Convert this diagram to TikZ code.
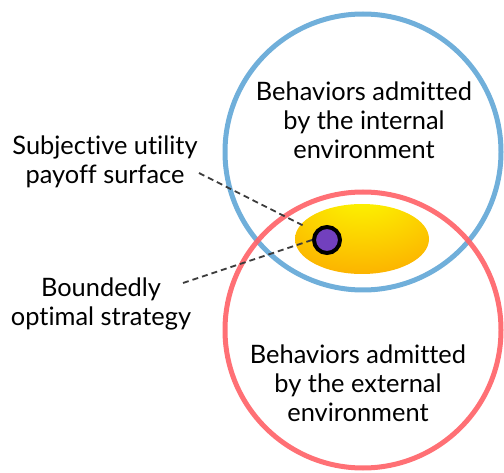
\documentclass[tikz,border=0pt]{standalone}
\usepackage{fontspec}
\setmainfont{Lato}[Ligatures=NoCommon]
\usetikzlibrary{shapes.geometric}
\definecolor{bluec}{RGB}{100,168,215}
\definecolor{redc}{RGB}{255,100,105}
\definecolor{purp}{RGB}{114,64,190}
\definecolor{dashc}{RGB}{60,60,60}
\definecolor{yel}{RGB}{252,242,0}
\definecolor{org}{RGB}{252,150,0}
\pgfdeclareradialshading{payoff}{\pgfpoint{0bp}{38bp}}{color(0bp)=(yel); color(6bp)=(yel); color(50bp)=(org)}
\tikzset{
  ring/.style={circle, draw=#1, draw opacity=0.92, line width=5pt, minimum size=276pt, inner sep=0pt},
  label/.style={align=center, font=\fontsize{25.4}{29}\selectfont, inner sep=0pt},
  dashline/.style={draw=dashc, line width=1.8pt, dash pattern=on 6pt off 4pt},
}
\begin{document}
\begin{tikzpicture}[x=1pt,y=-1pt]
\useasboundingbox (0,0) rectangle (504,473);
\node[ring=bluec] (blue) at (363,152) {};
\node[ring=redc] (red) at (363,330) {};
\node[ellipse, shade, shading=payoff, minimum width=134pt, minimum height=70pt, inner sep=0pt] (payoff) at (362,239) {};
\node[circle, fill=purp, draw=black, line width=4pt, minimum size=26pt, inner sep=0pt] (opt) at (327,240) {};
\node[label] (internal) at (364,120) {Behaviors admitted\\by the internal\\environment};
\node[label] (external) at (358,383) {Behaviors admitted\\by the external\\environment};
\node[label] (subj) at (105,162) {Subjective utility\\payoff surface};
\node[label] (bound) at (101,304) {Boundedly\\optimal strategy};
\coordinate (s1) at (199,173);
\coordinate (s2) at (304,226);
\coordinate (b1) at (183,283);
\draw[dashline] (s1) -- (s2);
\draw[dashline] (b1) -- (opt.west);
\end{tikzpicture}
\end{document}
